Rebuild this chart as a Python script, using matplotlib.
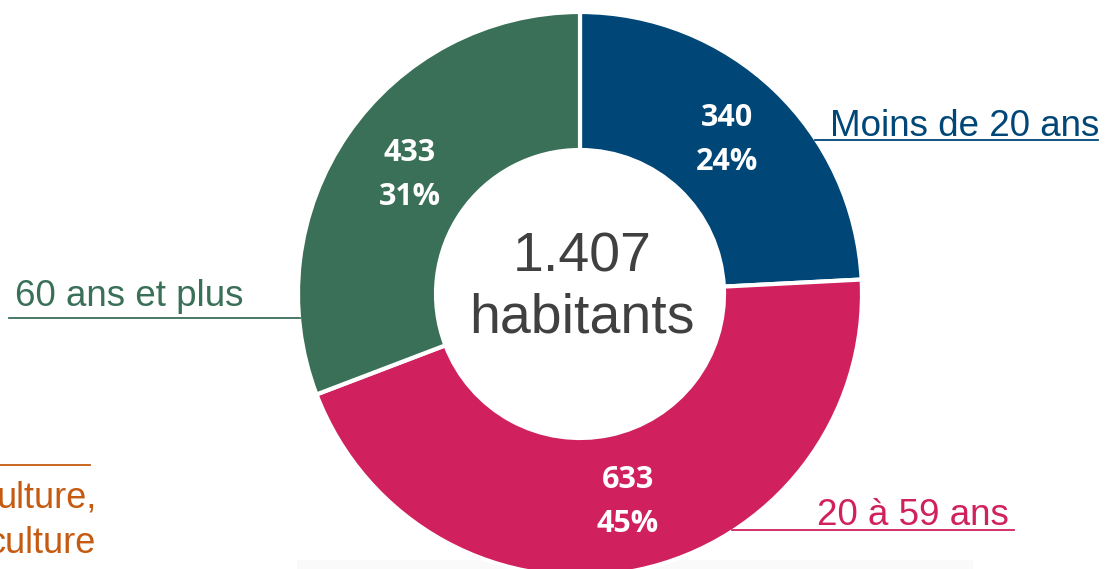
import matplotlib
matplotlib.use("Agg")
import matplotlib.pyplot as plt
from matplotlib.patches import Rectangle

# Data
categories = ["Moins de 20 ans", "20 à 59 ans", "60 ans et plus"]
values = [340, 633, 433]
percents = ["24%", "45%", "31%"]
total_label = "1.407\nhabitants"
colors = ["#004777", "#D0215E", "#3A7058"]
orange = "#C55A11"

W, H = 1107, 569
fig = plt.figure(figsize=(W / 100, H / 100), dpi=100)
ax = fig.add_axes([0, 0, 1, 1])
ax.set_xlim(0, W)
ax.set_ylim(0, H)
ax.set_aspect("equal")
ax.axis("off")

def Y(py):
    return H - py

# faint grey band at the bottom
ax.add_patch(Rectangle((297, Y(569)), 973 - 297, 9, facecolor="#FAFAFA", edgecolor="none", zorder=0))

cx, cy, R, hole = 580, 294, 282, 144
ax.pie(values, colors=colors, startangle=90, counterclock=False,
       center=(cx, Y(cy)), radius=R, frame=True,
       wedgeprops=dict(width=R - hole, edgecolor="white", linewidth=3))
ax.set_xlim(0, W)
ax.set_ylim(0, H)
ax.axis("off")

# center text
ax.text(cx + 2, Y(288), total_label, ha="center", va="center", fontsize=40,
        color="#404040", family="Liberation Sans", linespacing=1.22)

# wedge labels
lab_pos = [(727, 140), (628, 502), (410, 175)]
for (x, y), v, p in zip(lab_pos, values, percents):
    ax.text(x, Y(y), f"{v}\n{p}", ha="center", va="center", fontsize=22,
            fontweight="bold", color="white", family="Open Sans", linespacing=1.6)

# category labels with underlines
fs = 26.5
ax.plot([815, 1098], [Y(140), Y(140)], color=colors[0], lw=1.3)
ax.text(830, Y(136), categories[0], ha="left", va="baseline", fontsize=fs,
        color=colors[0], family="Liberation Sans")

ax.plot([732, 1014], [Y(530), Y(530)], color=colors[1], lw=1.3)
ax.text(817, Y(525), categories[1], ha="left", va="baseline", fontsize=fs,
        color=colors[1], family="Liberation Sans")

ax.plot([9, 300], [Y(318), Y(318)], color=colors[2], lw=1.3)
ax.text(15, Y(306), categories[2], ha="left", va="baseline", fontsize=fs,
        color=colors[2], family="Liberation Sans")

# cropped label on the left (cut by the picture's edge in the reference)
ax.plot([0, 90], [Y(465), Y(465)], color=orange, lw=1.3)
ax.text(97, Y(508), "ulture,", ha="right", va="baseline", fontsize=26,
        color=orange, family="Liberation Sans")
ax.text(96, Y(553), "culture", ha="right", va="baseline", fontsize=26,
        color=orange, family="Liberation Sans")

fig.savefig("out.png", dpi=100)
